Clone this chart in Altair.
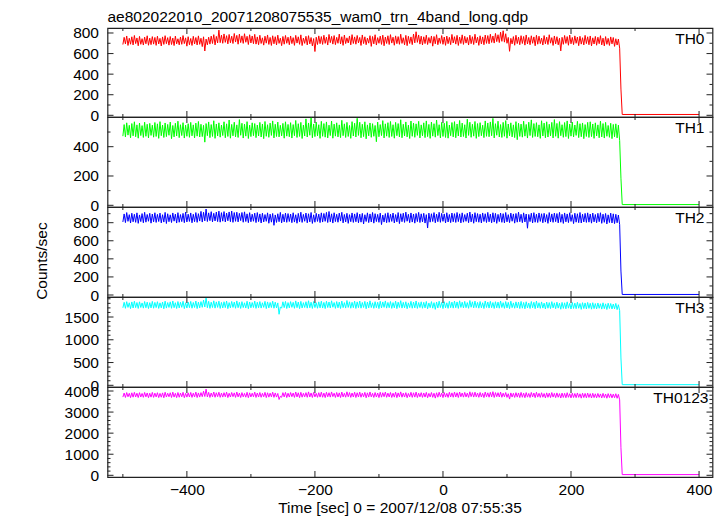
import altair as alt
import pandas as pd

TITLE = "ae802022010_20071208075535_wam0_trn_4band_long.qdp"
X_TITLE = "Time [sec] 0 = 2007/12/08 07:55:35"
Y_TITLE = "Counts/sec"

# Each band is read as the lower and the upper edge of the noisy trace:
# lower edge at -500, -496, ..., 276 s, then the drop bin and the flat tail;
# upper edge at the bins in between (-498, -494, ..., 274 s).
LOW_TIME = list(range(-500, 277, 4)) + [278, 280, 400]
HIGH_TIME = list(range(-498, 275, 4))

TH0_LOW = [
    688, 694, 679, 691, 684, 697, 676, 690, 683, 695, 681, 687, 692,
    680, 693, 674, 689, 696, 682, 688, 678, 694, 685, 690, 697, 672,
    686, 679, 693, 684, 690, 668, 625, 685, 692, 698, 684, 703, 706,
    700, 709, 694, 705, 698, 712, 691, 707, 699, 710, 688, 703, 696,
    692, 686, 698, 682, 701, 689, 679, 695, 684, 699, 677, 691, 700,
    686, 697, 680, 702, 690, 678, 699, 684, 694, 675, 620, 688, 696,
    689, 699, 683, 706, 692, 687, 700, 694, 680, 697, 703, 685, 698,
    691, 704, 679, 697, 686, 701, 670, 694, 683, 700, 689, 676, 698,
    688, 702, 681, 696, 690, 699, 685, 677, 698, 687, 704, 709, 692,
    684, 697, 688, 701, 672, 695, 686, 699, 690, 680, 696, 687, 703,
    692, 679, 698, 689, 702, 683, 696, 688, 704, 680, 694, 686, 699,
    695, 708, 702, 716, 707, 719, 711, 700, 622, 694, 681, 697, 686,
    698, 682, 693, 686, 700, 676, 691, 697, 683, 695, 688, 701, 679,
    694, 685, 626, 690, 699, 681, 695, 687, 700, 677, 692, 684, 697,
    686, 675, 693, 681, 696, 684, 674, 690, 679, 694, 670, 683, 652,
    255, 8, 8,
]
TH0_HIGH = [
    758, 771, 749, 763, 776, 752, 767, 745, 760, 773, 750, 765, 757,
    769, 748, 762, 774, 755, 766, 751, 770, 744, 761, 775, 753, 764,
    747, 768, 756, 772, 749, 763, 741, 759, 770, 784, 767, 828, 779,
    791, 774, 786, 769, 795, 777, 789, 772, 793, 768, 783, 771, 787,
    762, 778, 753, 769, 781, 757, 773, 764, 779, 750, 766, 776, 759,
    771, 755, 777, 763, 782, 751, 768, 774, 756, 746, 759, 772, 765,
    778, 760, 786, 767, 775, 758, 789, 764, 780, 753, 771, 784, 762,
    776, 757, 781, 763, 751, 774, 766, 783, 755, 770, 779, 761, 773,
    784, 759, 772, 765, 788, 754, 777, 768, 762, 790, 812, 781, 769,
    763, 779, 756, 771, 766, 783, 752, 775, 761, 770, 758, 786, 764,
    777, 760, 782, 768, 757, 779, 764, 788, 759, 773, 762, 780, 775,
    788, 771, 796, 783, 808, 822, 793, 757, 748, 765, 778, 760, 774,
    766, 781, 757, 773, 762, 778, 769, 751, 775, 760, 783, 755, 771,
    764, 749, 758, 776, 765, 780, 757, 772, 761, 768, 754, 777, 763,
    771, 753, 767, 759, 774, 750, 765, 748, 762, 756, 744, 741,
]

TH1_LOW = [
    472, 466, 479, 461, 474, 468, 458, 476, 463, 471, 460, 477, 465,
    470, 457, 475, 463, 469, 478, 455, 467, 473, 462, 476, 459, 471,
    464, 474, 460, 472, 466, 469, 431, 475, 462, 470, 457, 473, 465,
    476, 461, 470, 458, 474, 467, 463, 478, 459, 472, 456, 469, 475,
    462, 473, 466, 455, 471, 464, 477, 460, 470, 467, 474, 458, 472,
    468, 459, 475, 463, 470, 456, 473, 466, 478, 461, 469, 474, 457,
    471, 465, 460, 476, 458, 472, 467, 462, 475, 463, 470, 457, 473,
    466, 477, 461, 469, 454, 474, 464, 471, 434, 468, 476, 460, 472,
    463, 470, 458, 475, 466, 461, 473, 467, 456, 471, 464, 477, 460,
    474, 462, 469, 457, 472, 465, 476, 460, 470, 463, 458, 475, 467,
    461, 473, 466, 470, 459, 477, 464, 472, 457, 469, 475, 462, 471,
    468, 475, 460, 478, 466, 463, 471, 458, 474, 467, 462, 448, 470,
    465, 472, 459, 476, 463, 470, 468, 457, 473, 461, 466, 474, 460,
    471, 458, 475, 464, 469, 456, 472, 466, 477, 462, 468, 455, 470,
    463, 469, 457, 473, 461, 467, 459, 471, 464, 455, 468, 460, 442,
    185, 5, 5,
]
TH1_HIGH = [
    551, 563, 546, 558, 570, 549, 561, 544, 567, 553, 559, 547, 565,
    556, 571, 548, 562, 552, 568, 545, 560, 574, 550, 564, 547, 557,
    566, 549, 561, 572, 553, 546, 558, 569, 551, 577, 555, 563, 548,
    570, 556, 582, 552, 567, 549, 585, 560, 554, 571, 547, 563, 558,
    548, 566, 555, 572, 550, 561, 576, 553, 568, 546, 559, 570, 552,
    564, 551, 579, 557, 566, 548, 590, 562, 597, 555, 568, 550, 573,
    558, 569, 547, 575, 554, 563, 549, 580, 556, 566, 545, 571, 560,
    594, 567, 553, 570, 549, 562, 557, 545, 568, 551, 578, 556, 564,
    572, 550, 566, 558, 584, 553, 569, 547, 575, 561, 556, 573, 549,
    563, 576, 552, 568, 557, 582, 550, 566, 560, 573, 548, 565, 571,
    555, 579, 561, 550, 588, 567, 553, 572, 558, 564, 547, 576, 562,
    569, 593, 557, 574, 551, 566, 578, 555, 563, 549, 571, 560, 554,
    574, 552, 567, 583, 558, 564, 549, 577, 561, 570, 553, 566, 585,
    559, 571, 550, 565, 576, 554, 568, 548, 573, 557, 562, 551, 566,
    570, 555, 563, 549, 574, 558, 566, 545, 560, 552, 556, 547,
]

TH2_LOW = [
    808, 801, 815, 797, 810, 804, 793, 812, 799, 806, 816, 795, 809,
    803, 813, 798, 807, 791, 811, 802, 817, 796, 805, 812, 800, 808,
    814, 799, 811, 804, 818, 807, 820, 813, 822, 809, 819, 812, 806,
    817, 808, 821, 811, 804, 815, 809, 823, 805, 813, 800, 810, 816,
    801, 812, 797, 808, 815, 794, 806, 771, 803, 811, 798, 809, 804,
    813, 800, 807, 794, 811, 803, 816, 799, 809, 792, 805, 814, 801,
    807, 815, 802, 810, 796, 812, 805, 818, 798, 808, 793, 811, 803,
    810, 799, 806, 786, 813, 801, 808, 795, 812, 804, 779, 807, 800,
    805, 814, 797, 809, 790, 811, 803, 816, 800, 807, 795, 812, 802,
    809, 796, 741, 806, 813, 799, 811, 804, 815, 797, 808, 801, 810,
    803, 812, 798, 806, 815, 800, 809, 794, 811, 805, 797, 813, 802,
    810, 799, 807, 793, 812, 804, 798, 809, 801, 816, 795, 806, 811,
    800, 808, 739, 812, 797, 805, 802, 814, 799, 807, 793, 810, 804,
    811, 798, 805, 792, 809, 801, 814, 790, 806, 800, 797, 808, 803,
    806, 795, 809, 799, 811, 793, 804, 786, 802, 797, 790, 799, 778,
    265, 6, 6,
]
TH2_HIGH = [
    897, 912, 889, 905, 893, 909, 886, 901, 915, 891, 904, 896, 910,
    892, 906, 888, 914, 899, 887, 908, 895, 911, 890, 903, 917, 894,
    908, 893, 912, 900, 925, 915, 951, 909, 922, 904, 918, 928, 911,
    923, 907, 919, 929, 912, 916, 903, 913, 920, 898, 911, 894, 906,
    912, 897, 905, 890, 909, 895, 902, 886, 899, 914, 893, 906, 901,
    896, 910, 888, 903, 916, 892, 907, 899, 913, 887, 904, 895, 909,
    902, 914, 924, 898, 910, 893, 906, 915, 891, 904, 889, 908, 897,
    911, 895, 903, 888, 909, 897, 913, 900, 892, 906, 885, 901, 910,
    894, 907, 890, 912, 899, 905, 917, 893, 908, 896, 902, 914, 898,
    904, 889, 906, 899, 912, 895, 915, 903, 897, 910, 891, 907, 900,
    913, 898, 909, 890, 905, 918, 896, 911, 901, 894, 908, 899, 914,
    895, 910, 903, 892, 907, 900, 913, 889, 906, 897, 902, 916, 893,
    909, 896, 891, 905, 911, 894, 908, 899, 904, 890, 912, 897, 906,
    901, 914, 893, 908, 897, 910, 888, 905, 899, 913, 894, 903, 909,
    896, 907, 891, 904, 910, 894, 902, 887, 906, 898, 893, 885,
]

TH3_LOW = [
    1702, 1691, 1711, 1684, 1698, 1706, 1688, 1709, 1695, 1703, 1686, 1700, 1693,
    1707, 1689, 1701, 1681, 1696, 1710, 1692, 1704, 1687, 1699, 1712, 1685, 1697,
    1705, 1694, 1709, 1686, 1700, 1713, 1720, 1703, 1690, 1708, 1695, 1711, 1689,
    1698, 1706, 1684, 1701, 1710, 1692, 1704, 1688, 1707, 1697, 1683, 1702, 1709,
    1690, 1703, 1696, 1711, 1685, 1699, 1708, 1693, 1701, 1560, 1694, 1706, 1687,
    1700, 1712, 1691, 1705, 1684, 1698, 1709, 1695, 1703, 1688, 1707, 1692, 1701,
    1697, 1686, 1708, 1699, 1714, 1690, 1702, 1687, 1706, 1696, 1710, 1693, 1704,
    1688, 1705, 1694, 1709, 1682, 1700, 1707, 1691, 1703, 1686, 1698, 1711, 1695,
    1704, 1690, 1701, 1685, 1709, 1696, 1702, 1683, 1706, 1693, 1700, 1689, 1707,
    1692, 1700, 1681, 1705, 1694, 1668, 1697, 1708, 1686, 1701, 1690, 1704, 1695,
    1703, 1689, 1710, 1698, 1705, 1691, 1714, 1700, 1707, 1694, 1702, 1687, 1709,
    1696, 1704, 1688, 1701, 1693, 1708, 1690, 1699, 1684, 1705, 1692, 1700, 1686,
    1694, 1681, 1698, 1687, 1702, 1683, 1699, 1690, 1696, 1676, 1693, 1685, 1700,
    1682, 1695, 1671, 1689, 1680, 1694, 1676, 1688, 1683, 1692, 1668, 1686, 1677,
    1689, 1672, 1684, 1678, 1691, 1674, 1683, 1665, 1687, 1676, 1680, 1662, 1640,
    600, 14, 14,
]
TH3_HIGH = [
    1823, 1837, 1812, 1831, 1846, 1818, 1834, 1809, 1840, 1826, 1815, 1843, 1821,
    1836, 1811, 1829, 1848, 1817, 1833, 1852, 1814, 1839, 1824, 1845, 1813, 1830,
    1842, 1819, 1851, 1827, 1838, 1872, 1918, 1844, 1825, 1855, 1832, 1847, 1820,
    1835, 1850, 1816, 1841, 1828, 1853, 1822, 1837, 1812, 1846, 1830, 1818, 1849,
    1824, 1839, 1813, 1844, 1831, 1819, 1848, 1826, 1810, 1722, 1834, 1842, 1817,
    1838, 1822, 1854, 1829, 1843, 1815, 1836, 1857, 1825, 1840, 1814, 1833, 1847,
    1821, 1845, 1830, 1856, 1818, 1839, 1827, 1850, 1816, 1862, 1834, 1823, 1848,
    1832, 1851, 1819, 1843, 1828, 1855, 1813, 1837, 1824, 1846, 1831, 1853, 1820,
    1840, 1817, 1849, 1826, 1858, 1822, 1835, 1811, 1844, 1829, 1852, 1818, 1834,
    1823, 1841, 1809, 1838, 1815, 1830, 1847, 1820, 1836, 1812, 1845, 1827, 1850,
    1831, 1856, 1825, 1843, 1817, 1862, 1834, 1849, 1821, 1840, 1814, 1852, 1829,
    1844, 1818, 1836, 1827, 1851, 1815, 1839, 1822, 1847, 1810, 1833, 1826, 1842,
    1819, 1835, 1808, 1840, 1824, 1849, 1813, 1831, 1805, 1828, 1816, 1837, 1811,
    1826, 1803, 1821, 1812, 1833, 1800, 1818, 1806, 1824, 1797, 1815, 1809, 1820,
    1801, 1814, 1795, 1808, 1791, 1812, 1789, 1803, 1796, 1785, 1799, 1770,
]

TH0123_LOW = [
    3712, 3694, 3725, 3686, 3708, 3719, 3690, 3716, 3701, 3722, 3684, 3710, 3697,
    3718, 3688, 3706, 3679, 3714, 3727, 3693, 3711, 3685, 3704, 3723, 3682, 3709,
    3716, 3698, 3721, 3691, 3712, 3730, 3740, 3719, 3695, 3724, 3703, 3728, 3700,
    3711, 3725, 3689, 3716, 3731, 3698, 3720, 3692, 3722, 3707, 3684, 3717, 3726,
    3696, 3714, 3702, 3727, 3688, 3709, 3723, 3699, 3712, 3598, 3703, 3719, 3690,
    3713, 3729, 3697, 3718, 3686, 3707, 3724, 3701, 3715, 3693, 3720, 3699, 3711,
    3704, 3688, 3722, 3710, 3733, 3695, 3714, 3690, 3719, 3705, 3726, 3698, 3716,
    3693, 3718, 3703, 3725, 3680, 3712, 3721, 3696, 3715, 3688, 3707, 3729, 3701,
    3717, 3694, 3710, 3686, 3723, 3705, 3714, 3683, 3720, 3699, 3711, 3690, 3722,
    3698, 3712, 3680, 3719, 3701, 3662, 3706, 3724, 3689, 3713, 3695, 3718, 3704,
    3715, 3692, 3726, 3708, 3719, 3697, 3733, 3711, 3722, 3701, 3714, 3688, 3724,
    3706, 3720, 3694, 3728, 3715, 3702, 3726, 3698, 3618, 3713, 3695, 3709, 3689,
    3703, 3682, 3708, 3691, 3716, 3685, 3710, 3696, 3705, 3672, 3700, 3688, 3711,
    3686, 3703, 3667, 3695, 3680, 3701, 3673, 3692, 3684, 3698, 3661, 3689, 3676,
    3694, 3669, 3687, 3675, 3697, 3671, 3686, 3658, 3690, 3673, 3681, 3655, 3580,
    1305, 33, 33,
]
TH0123_HIGH = [
    3902, 3925, 3889, 3914, 3936, 3895, 3921, 3884, 3930, 3906, 3893, 3934, 3899,
    3918, 3887, 3911, 3940, 3893, 3916, 3945, 3890, 3927, 3902, 3937, 3888, 3913,
    3931, 3896, 3948, 3908, 3923, 3990, 4088, 3935, 3904, 3952, 3916, 3941, 3897,
    3920, 3944, 3892, 3929, 3910, 3950, 3901, 3924, 3886, 3938, 3912, 3895, 3946,
    3905, 3928, 3889, 3936, 3915, 3897, 3943, 3908, 3884, 3750, 3921, 3934, 3894,
    3927, 3903, 3953, 3914, 3937, 3891, 3922, 3958, 3906, 3932, 3889, 3919, 3945,
    3900, 3939, 3917, 3955, 3895, 3930, 3911, 3949, 3892, 3960, 3925, 3904, 3942,
    3916, 3947, 3898, 3935, 3912, 3954, 3889, 3927, 3905, 3940, 3918, 3951, 3899,
    3930, 3894, 3943, 3909, 3957, 3900, 3922, 3885, 3938, 3914, 3948, 3896, 3921,
    3906, 3933, 3887, 3928, 3893, 3915, 3941, 3902, 3925, 3890, 3939, 3911, 3947,
    3917, 3952, 3905, 3934, 3898, 3962, 3923, 3944, 3901, 3930, 3891, 3949, 3913,
    3936, 3968, 3924, 3919, 3945, 3896, 3927, 3870, 3909, 3893, 3921, 3906, 3932,
    3899, 3924, 3884, 3931, 3905, 3940, 3890, 3917, 3880, 3911, 3896, 3926, 3888,
    3909, 3875, 3902, 3889, 3918, 3872, 3897, 3881, 3906, 3868, 3894, 3884, 3899,
    3874, 3891, 3866, 3883, 3861, 3887, 3858, 3876, 3865, 3852, 3870, 3840,
]

SERIES_LOW = [TH0_LOW, TH1_LOW, TH2_LOW, TH3_LOW, TH0123_LOW]
SERIES_HIGH = [TH0_HIGH, TH1_HIGH, TH2_HIGH, TH3_HIGH, TH0123_HIGH]
BANDS = ["TH0", "TH1", "TH2", "TH3", "TH0123"]
COLORS = ["#ff0000", "#00ff00", "#0000ff", "#00ffff", "#ff00ff"]

X_DOMAIN = [-524, 421]
X_MAJOR = [-400, -200, 0, 200, 400]
X_MINOR = [-500, -300, -100, 100, 300]

Y_DOMAINS = [[-16.5, 848.6], [-11.6, 602.7], [-22.1, 973.7], [-37.3, 1939.4], [-80.7, 4189.8]]
Y_MAJOR = [
    [0, 200, 400, 600, 800],
    [0, 200, 400],
    [0, 200, 400, 600, 800],
    [0, 500, 1000, 1500],
    [0, 1000, 2000, 3000, 4000],
]
Y_MINOR = [
    [100, 300, 500, 700],
    [100, 300, 500],
    [100, 300, 500, 700, 900],
    [100, 200, 300, 400, 600, 700, 800, 900, 1100, 1200, 1300, 1400, 1600, 1700, 1800, 1900],
    [200, 400, 600, 800, 1200, 1400, 1600, 1800, 2200, 2400, 2600, 2800, 3200, 3400, 3600, 3800],
]

W = 605
HEIGHTS = [89, 90, 90, 90, 90]
LABEL_INSET = [8, 8, 8, 8, 4]
FONT = "Liberation Sans"
FS = 15.5
MAJ, MIN = 6, 3
INK = "#222222"


def panel(k):
    H = HEIGHTS[k]
    xscale = alt.Scale(domain=X_DOMAIN, nice=False, zero=False)
    yscale = alt.Scale(domain=Y_DOMAINS[k], nice=False, zero=False)
    if k == 4:
        xaxis = alt.Axis(
            values=X_MAJOR, format="d", ticks=False, tickSize=0, domain=False, grid=False,
            labelFont=FONT, labelFontSize=FS, labelColor="black", labelPadding=17,
            labelBaseline="alphabetic", labelFlush=False, labelOverlap=False,
            title=X_TITLE, titleFont=FONT, titleFontSize=FS, titleFontWeight="normal",
            titleColor="black", titleX=292, titleY=35, titleAlign="center",
            titleBaseline="alphabetic",
        )
    else:
        xaxis = None
    yaxis = alt.Axis(
        values=Y_MAJOR[k], format="d", ticks=False, tickSize=0, domain=False, grid=False,
        labelFont=FONT, labelFontSize=FS, labelColor="black", labelPadding=9,
        labelBaseline="middle", labelFlush=False, labelOverlap=False,
        title=Y_TITLE if k == 2 else None,
        titleFont=FONT, titleFontSize=FS, titleFontWeight="normal", titleColor="black",
        titleX=-61.5, titleY=53.6, titleAlign="center", titleBaseline="alphabetic",
        titleAngle=270,
    )
    xenc = alt.X("t:Q", scale=xscale, axis=xaxis)
    yenc = alt.Y("v:Q", scale=yscale, axis=yaxis)

    rows = list(zip(LOW_TIME, SERIES_LOW[k])) + list(zip(HIGH_TIME, SERIES_HIGH[k]))
    df = pd.DataFrame(rows, columns=["t", "v"]).sort_values("t")
    line = alt.Chart(df).mark_line(
        color=COLORS[k], strokeWidth=1, interpolate="linear", clip=True
    ).encode(x=xenc, y=yenc)

    layers = [line]
    for vals, ln in ((X_MAJOR, MAJ), (X_MINOR, MIN)):
        d = pd.DataFrame({"t": vals})
        layers.append(alt.Chart(d).mark_rule(color=INK, strokeWidth=1).encode(
            x=xenc, y=alt.value(0), y2=alt.value(ln)))
        layers.append(alt.Chart(d).mark_rule(color=INK, strokeWidth=1).encode(
            x=xenc, y=alt.value(H - ln), y2=alt.value(H)))
    for vals, ln in ((Y_MAJOR[k], MAJ), (Y_MINOR[k], MIN)):
        d = pd.DataFrame({"v": vals})
        layers.append(alt.Chart(d).mark_rule(color=INK, strokeWidth=1).encode(
            y=yenc, x=alt.value(0), x2=alt.value(ln)))
        layers.append(alt.Chart(d).mark_rule(color=INK, strokeWidth=1).encode(
            y=yenc, x=alt.value(W - ln), x2=alt.value(W)))

    label = alt.Chart(pd.DataFrame({"name": [BANDS[k]]})).mark_text(
        align="right", baseline="alphabetic", font=FONT, fontSize=FS, color="black"
    ).encode(text="name:N", x=alt.value(W - LABEL_INSET[k]), y=alt.value(16))
    layers.append(label)

    return alt.layer(*layers).properties(width=W, height=H)


chart = alt.vconcat(
    *[panel(k) for k in range(5)], spacing=0, bounds="flush"
).properties(
    title=alt.TitleParams(
        text=TITLE, anchor="start", frame="group", font=FONT, fontSize=FS,
        fontWeight="normal", color="black", baseline="alphabetic", offset=-12.5,
    ),
    padding={"left": 24.5, "top": 2, "right": 0, "bottom": 0},
).configure_view(stroke=INK, strokeWidth=1.2)

chart.save("out.html", embed_options={"renderer": "svg", "actions": False})
